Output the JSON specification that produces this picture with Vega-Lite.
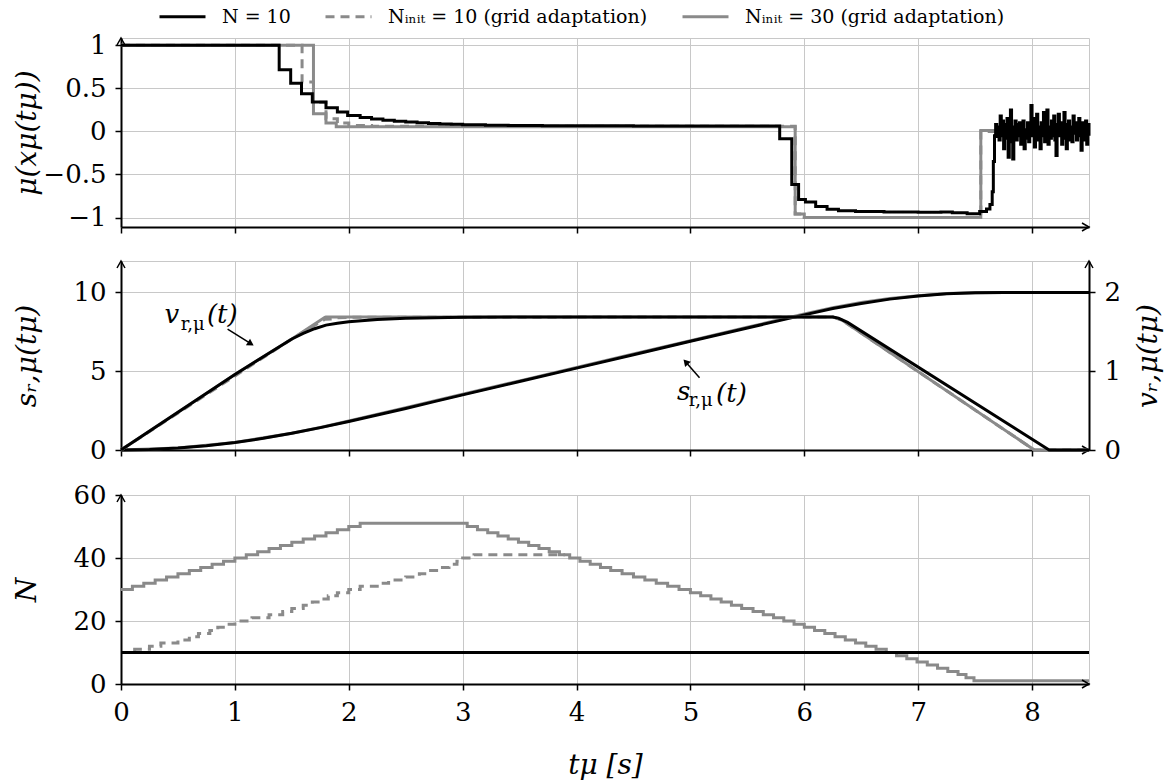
{
  "$schema": "https://vega.github.io/schema/vega-lite/v6.json",
  "background": "white",
  "padding": {"left": 12, "top": -8, "right": 0, "bottom": 0},
  "config": {
    "font": "DejaVu Serif",
    "view": {"stroke": "#c8c8c8", "strokeWidth": 1},
    "axis": {"domainColor": "#000", "domainWidth": 2, "tickColor": "#000", "tickWidth": 1.5, "tickSize": 6, "gridColor": "#c8c8c8", "gridWidth": 1, "labelFont": "DejaVu Serif", "labelFontSize": 26, "labelColor": "#000", "labelPadding": 9, "labelFlush": false, "labelOverlap": false, "titleFont": "DejaVu Serif", "titleFontSize": 28, "titleFontWeight": "normal", "titleFontStyle": "italic", "titleColor": "#000"}
  },
  "datasets": {
    "mu": [
      {"t":0,"mu":1,"k":"a"},{"t":1.389,"mu":0.717,"k":"a"},{"t":1.49,"mu":0.56,"k":"a"},{"t":1.585,"mu":0.438,"k":"a"},{"t":1.68,"mu":0.341,"k":"a"},{"t":1.8,"mu":0.275,"k":"a"},{"t":1.9,"mu":0.225,"k":"a"},{"t":1.99,"mu":0.186,"k":"a"},{"t":2.1,"mu":0.163,"k":"a"},{"t":2.2,"mu":0.145,"k":"a"},{"t":2.3,"mu":0.13,"k":"a"},{"t":2.4,"mu":0.118,"k":"a"},{"t":2.5,"mu":0.108,"k":"a"},{"t":2.6,"mu":0.1,"k":"a"},{"t":2.7,"mu":0.093,"k":"a"},{"t":2.8,"mu":0.087,"k":"a"},{"t":2.9,"mu":0.082,"k":"a"},{"t":3.0,"mu":0.078,"k":"a"},{"t":3.2,"mu":0.073,"k":"a"},{"t":3.4,"mu":0.07,"k":"a"},{"t":3.7,"mu":0.067,"k":"a"},{"t":4.0,"mu":0.065,"k":"a"},{"t":4.5,"mu":0.063,"k":"a"},{"t":5.0,"mu":0.062,"k":"a"},{"t":5.784,"mu":-0.085,"k":"a"},{"t":5.89,"mu":-0.616,"k":"a"},{"t":5.95,"mu":-0.79,"k":"a"},{"t":6.01,"mu":-0.82,"k":"a"},{"t":6.1,"mu":-0.872,"k":"a"},{"t":6.2,"mu":-0.905,"k":"a"},{"t":6.3,"mu":-0.92,"k":"a"},{"t":6.45,"mu":-0.93,"k":"a"},{"t":6.7,"mu":-0.935,"k":"a"},{"t":7.0,"mu":-0.94,"k":"a"},{"t":7.2,"mu":-0.935,"k":"a"},{"t":7.3,"mu":-0.945,"k":"a"},{"t":7.43,"mu":-0.955,"k":"a"},{"t":7.54,"mu":-0.93,"k":"a"},{"t":7.6,"mu":-0.9,"k":"a"},{"t":7.63,"mu":-0.85,"k":"a"},{"t":7.65,"mu":-0.7,"k":"a"},{"t":7.66,"mu":-0.35,"k":"a"},{"t":7.67,"mu":-0.05,"k":"a"},{"t":7.68,"mu":0.08,"k":"a"},{"t":7.69,"mu":-0.06,"k":"a"},
      {"t":7.70,"mu":0.05,"k":"a"},{"t":7.71,"mu":-0.1,"k":"a"},{"t":7.72,"mu":0.18,"k":"a"},{"t":7.73,"mu":-0.05,"k":"a"},{"t":7.74,"mu":0.12,"k":"a"},{"t":7.75,"mu":-0.2,"k":"a"},{"t":7.76,"mu":0.08,"k":"a"},{"t":7.77,"mu":-0.08,"k":"a"},{"t":7.78,"mu":0.15,"k":"a"},{"t":7.79,"mu":-0.3,"k":"a"},{"t":7.80,"mu":0.1,"k":"a"},{"t":7.81,"mu":0.25,"k":"a"},{"t":7.82,"mu":-0.12,"k":"a"},{"t":7.83,"mu":-0.32,"k":"a"},{"t":7.84,"mu":0.05,"k":"a"},{"t":7.85,"mu":0.12,"k":"a"},{"t":7.86,"mu":-0.1,"k":"a"},{"t":7.87,"mu":0.08,"k":"a"},{"t":7.88,"mu":-0.05,"k":"a"},{"t":7.89,"mu":0.1,"k":"a"},{"t":7.90,"mu":-0.15,"k":"a"},{"t":7.91,"mu":0.06,"k":"a"},{"t":7.92,"mu":0.12,"k":"a"},{"t":7.93,"mu":-0.2,"k":"a"},{"t":7.94,"mu":0.02,"k":"a"},{"t":7.95,"mu":-0.08,"k":"a"},{"t":7.96,"mu":0.1,"k":"a"},{"t":7.97,"mu":-0.12,"k":"a"},{"t":7.98,"mu":0.05,"k":"a"},{"t":7.99,"mu":0.3,"k":"a"},{"t":8.00,"mu":-0.05,"k":"a"},{"t":8.01,"mu":0.15,"k":"a"},{"t":8.02,"mu":-0.18,"k":"a"},{"t":8.03,"mu":0.08,"k":"a"},{"t":8.04,"mu":0.2,"k":"a"},{"t":8.05,"mu":-0.1,"k":"a"},{"t":8.06,"mu":0.05,"k":"a"},{"t":8.07,"mu":-0.2,"k":"a"},{"t":8.08,"mu":0.1,"k":"a"},{"t":8.09,"mu":-0.05,"k":"a"},{"t":8.10,"mu":0.22,"k":"a"},{"t":8.11,"mu":-0.12,"k":"a"},{"t":8.12,"mu":0.08,"k":"a"},{"t":8.13,"mu":0.25,"k":"a"},{"t":8.14,"mu":-0.15,"k":"a"},{"t":8.15,"mu":0.05,"k":"a"},{"t":8.16,"mu":-0.08,"k":"a"},{"t":8.17,"mu":0.12,"k":"a"},{"t":8.18,"mu":-0.05,"k":"a"},{"t":8.19,"mu":0.18,"k":"a"},{"t":8.20,"mu":-0.1,"k":"a"},{"t":8.21,"mu":-0.28,"k":"a"},{"t":8.22,"mu":0.08,"k":"a"},{"t":8.23,"mu":0.2,"k":"a"},{"t":8.24,"mu":-0.05,"k":"a"},{"t":8.25,"mu":0.1,"k":"a"},{"t":8.26,"mu":-0.15,"k":"a"},{"t":8.27,"mu":0.05,"k":"a"},{"t":8.28,"mu":0.22,"k":"a"},{"t":8.29,"mu":-0.08,"k":"a"},{"t":8.30,"mu":-0.2,"k":"a"},{"t":8.31,"mu":0.08,"k":"a"},{"t":8.32,"mu":0.12,"k":"a"},{"t":8.33,"mu":-0.1,"k":"a"},{"t":8.34,"mu":0.05,"k":"a"},{"t":8.35,"mu":-0.12,"k":"a"},{"t":8.36,"mu":0.18,"k":"a"},{"t":8.37,"mu":-0.02,"k":"a"},{"t":8.38,"mu":0.1,"k":"a"},{"t":8.39,"mu":-0.1,"k":"a"},{"t":8.40,"mu":0.05,"k":"a"},{"t":8.41,"mu":0.15,"k":"a"},{"t":8.42,"mu":-0.05,"k":"a"},{"t":8.43,"mu":-0.22,"k":"a"},{"t":8.44,"mu":0.1,"k":"a"},{"t":8.45,"mu":0.05,"k":"a"},{"t":8.46,"mu":-0.1,"k":"a"},{"t":8.47,"mu":0.12,"k":"a"},{"t":8.48,"mu":-0.15,"k":"a"},{"t":8.49,"mu":0.08,"k":"a"},{"t":8.50,"mu":-0.05,"k":"a"},
      {"t":0,"mu":1,"k":"b"},{"t":1.59,"mu":0.574,"k":"b"},{"t":1.69,"mu":0.34,"k":"b"},{"t":1.8,"mu":0.147,"k":"b"},{"t":1.9,"mu":0.097,"k":"b"},{"t":2.0,"mu":0.07,"k":"b"},{"t":2.2,"mu":0.06,"k":"b"},{"t":5.92,"mu":-0.96,"k":"b"},{"t":6.0,"mu":-1.0,"k":"b"},{"t":7.55,"mu":0.0,"k":"b"},{"t":8.5,"mu":0.0,"k":"b"},
      {"t":0,"mu":1,"k":"c"},{"t":1.69,"mu":0.205,"k":"c"},{"t":1.8,"mu":0.097,"k":"c"},{"t":1.89,"mu":0.055,"k":"c"},{"t":5.92,"mu":-0.96,"k":"c"},{"t":6.0,"mu":-1.0,"k":"c"},{"t":7.55,"mu":0.01,"k":"c"},{"t":8.5,"mu":0.01,"k":"c"}
    ],
    "s": [
      {"t":0,"s":0,"k":"a"},{"t":0.25,"s":0.03,"k":"a"},{"t":0.5,"s":0.12,"k":"a"},{"t":0.75,"s":0.27,"k":"a"},{"t":1,"s":0.48,"k":"a"},{"t":1.25,"s":0.74,"k":"a"},{"t":1.5,"s":1.06,"k":"a"},{"t":1.75,"s":1.42,"k":"a"},{"t":2,"s":1.81,"k":"a"},{"t":2.25,"s":2.22,"k":"a"},{"t":2.5,"s":2.64,"k":"a"},{"t":2.75,"s":3.07,"k":"a"},{"t":3,"s":3.5,"k":"a"},{"t":3.5,"s":4.35,"k":"a"},{"t":4,"s":5.2,"k":"a"},{"t":4.5,"s":6.05,"k":"a"},{"t":5,"s":6.9,"k":"a"},{"t":5.5,"s":7.75,"k":"a"},{"t":6,"s":8.58,"k":"a"},{"t":6.25,"s":8.98,"k":"a"},{"t":6.5,"s":9.3,"k":"a"},{"t":6.75,"s":9.58,"k":"a"},{"t":7,"s":9.78,"k":"a"},{"t":7.25,"s":9.92,"k":"a"},{"t":7.5,"s":9.99,"k":"a"},{"t":7.75,"s":10,"k":"a"},{"t":8.5,"s":10,"k":"a"},
      {"t":0,"s":0,"k":"c"},{"t":0.5,"s":0.12,"k":"c"},{"t":1,"s":0.48,"k":"c"},{"t":1.5,"s":1.06,"k":"c"},{"t":1.75,"s":1.43,"k":"c"},{"t":2,"s":1.84,"k":"c"},{"t":2.5,"s":2.69,"k":"c"},{"t":3,"s":3.54,"k":"c"},{"t":3.5,"s":4.39,"k":"c"},{"t":4,"s":5.24,"k":"c"},{"t":4.5,"s":6.09,"k":"c"},{"t":5,"s":6.94,"k":"c"},{"t":5.5,"s":7.79,"k":"c"},{"t":6,"s":8.63,"k":"c"},{"t":6.25,"s":9.03,"k":"c"},{"t":6.5,"s":9.36,"k":"c"},{"t":6.75,"s":9.62,"k":"c"},{"t":7,"s":9.8,"k":"c"},{"t":7.25,"s":9.93,"k":"c"},{"t":7.5,"s":9.99,"k":"c"},{"t":7.75,"s":10,"k":"c"},{"t":8.5,"s":10,"k":"c"}
    ],
    "v": [
      {"t":0,"v":0,"k":"a"},{"t":0.5,"v":0.48,"k":"a"},{"t":1,"v":0.96,"k":"a"},{"t":1.5,"v":1.41,"k":"a"},{"t":1.6,"v":1.48,"k":"a"},{"t":1.7,"v":1.54,"k":"a"},{"t":1.8,"v":1.586,"k":"a"},{"t":1.9,"v":1.61,"k":"a"},{"t":2,"v":1.628,"k":"a"},{"t":2.25,"v":1.658,"k":"a"},{"t":2.5,"v":1.672,"k":"a"},{"t":3,"v":1.686,"k":"a"},{"t":4,"v":1.69,"k":"a"},{"t":6.25,"v":1.69,"k":"a"},{"t":6.3,"v":1.675,"k":"a"},{"t":6.38,"v":1.62,"k":"a"},{"t":8.15,"v":0,"k":"a"},{"t":8.5,"v":0,"k":"a"},
      {"t":0,"v":0,"k":"b"},{"t":1.5,"v":1.41,"k":"b"},{"t":1.72,"v":1.6,"k":"b"},{"t":1.79,"v":1.66,"k":"b"},{"t":1.85,"v":1.665,"k":"b"},{"t":1.9,"v":1.68,"k":"b"},{"t":2,"v":1.685,"k":"b"},{"t":6.25,"v":1.69,"k":"b"},{"t":6.33,"v":1.65,"k":"b"},{"t":8.02,"v":0,"k":"b"},{"t":8.5,"v":0,"k":"b"},
      {"t":0,"v":0,"k":"c"},{"t":1,"v":0.96,"k":"c"},{"t":1.5,"v":1.41,"k":"c"},{"t":1.79,"v":1.685,"k":"c"},{"t":1.8,"v":1.69,"k":"c"},{"t":6.25,"v":1.69,"k":"c"},{"t":6.33,"v":1.65,"k":"c"},{"t":8.02,"v":0,"k":"c"},{"t":8.5,"v":0,"k":"c"}
    ],
    "n": [
      {"t":0,"N":10,"k":"a"},{"t":8.5,"N":10,"k":"a"},
      {"t":0,"N":10,"k":"b"},{"t":0.12,"N":11,"k":"b"},{"t":0.25,"N":12,"k":"b"},{"t":0.35,"N":13,"k":"b"},{"t":0.5,"N":14,"k":"b"},{"t":0.6,"N":15,"k":"b"},{"t":0.68,"N":16,"k":"b"},{"t":0.78,"N":17,"k":"b"},{"t":0.85,"N":18,"k":"b"},{"t":0.92,"N":19,"k":"b"},{"t":1.0,"N":20,"k":"b"},{"t":1.15,"N":21,"k":"b"},{"t":1.3,"N":22,"k":"b"},{"t":1.42,"N":23,"k":"b"},{"t":1.5,"N":24,"k":"b"},{"t":1.6,"N":25,"k":"b"},{"t":1.68,"N":26,"k":"b"},{"t":1.75,"N":27,"k":"b"},{"t":1.82,"N":28,"k":"b"},{"t":1.9,"N":29,"k":"b"},{"t":2.0,"N":30,"k":"b"},{"t":2.1,"N":31,"k":"b"},{"t":2.25,"N":32,"k":"b"},{"t":2.35,"N":33,"k":"b"},{"t":2.5,"N":34,"k":"b"},{"t":2.62,"N":35,"k":"b"},{"t":2.7,"N":36,"k":"b"},{"t":2.8,"N":37,"k":"b"},{"t":2.88,"N":38,"k":"b"},{"t":2.95,"N":39,"k":"b"},{"t":3.0,"N":40,"k":"b"},{"t":3.1,"N":41,"k":"b"},{"t":3.9,"N":41,"k":"b"},
      {"t":0,"N":30,"k":"c"},{"t":0.1,"N":31,"k":"c"},{"t":0.2,"N":32,"k":"c"},{"t":0.3,"N":33,"k":"c"},{"t":0.4,"N":34,"k":"c"},{"t":0.5,"N":35,"k":"c"},{"t":0.6,"N":36,"k":"c"},{"t":0.7,"N":37,"k":"c"},{"t":0.8,"N":38,"k":"c"},{"t":0.9,"N":39,"k":"c"},{"t":1.0,"N":40,"k":"c"},{"t":1.1,"N":41,"k":"c"},{"t":1.2,"N":42,"k":"c"},{"t":1.3,"N":43,"k":"c"},{"t":1.4,"N":44,"k":"c"},{"t":1.5,"N":45,"k":"c"},{"t":1.6,"N":46,"k":"c"},{"t":1.7,"N":47,"k":"c"},{"t":1.8,"N":48,"k":"c"},{"t":1.9,"N":49,"k":"c"},{"t":2.0,"N":50,"k":"c"},{"t":2.1,"N":51,"k":"c"},{"t":3.04,"N":50,"k":"c"},{"t":3.13,"N":49,"k":"c"},{"t":3.22,"N":48,"k":"c"},{"t":3.31,"N":47,"k":"c"},{"t":3.4,"N":46,"k":"c"},{"t":3.49,"N":45,"k":"c"},{"t":3.58,"N":44,"k":"c"},{"t":3.67,"N":43,"k":"c"},{"t":3.76,"N":42,"k":"c"},{"t":3.85,"N":41,"k":"c"},{"t":3.94,"N":40,"k":"c"},{"t":4.03,"N":39,"k":"c"},{"t":4.12,"N":38,"k":"c"},{"t":4.21,"N":37,"k":"c"},{"t":4.3,"N":36,"k":"c"},{"t":4.4,"N":35,"k":"c"},{"t":4.5,"N":34,"k":"c"},{"t":4.6,"N":33,"k":"c"},{"t":4.7,"N":32,"k":"c"},{"t":4.8,"N":31,"k":"c"},{"t":4.9,"N":30,"k":"c"},{"t":5.0,"N":29,"k":"c"},{"t":5.09,"N":28,"k":"c"},{"t":5.18,"N":27,"k":"c"},{"t":5.27,"N":26,"k":"c"},{"t":5.36,"N":25,"k":"c"},{"t":5.45,"N":24,"k":"c"},{"t":5.55,"N":23,"k":"c"},{"t":5.64,"N":22,"k":"c"},{"t":5.73,"N":21,"k":"c"},{"t":5.82,"N":20,"k":"c"},{"t":5.91,"N":19,"k":"c"},{"t":6.0,"N":18,"k":"c"},{"t":6.09,"N":17,"k":"c"},{"t":6.18,"N":16,"k":"c"},{"t":6.27,"N":15,"k":"c"},{"t":6.36,"N":14,"k":"c"},{"t":6.45,"N":13,"k":"c"},{"t":6.54,"N":12,"k":"c"},{"t":6.63,"N":11,"k":"c"},{"t":6.72,"N":10,"k":"c"},{"t":6.81,"N":9,"k":"c"},{"t":6.9,"N":8,"k":"c"},{"t":6.99,"N":7,"k":"c"},{"t":7.08,"N":6,"k":"c"},{"t":7.17,"N":5,"k":"c"},{"t":7.26,"N":4,"k":"c"},{"t":7.35,"N":3,"k":"c"},{"t":7.42,"N":2,"k":"c"},{"t":7.49,"N":1,"k":"c"},{"t":8.5,"N":1,"k":"c"}
    ]
  },
  "bounds": "flush",
  "spacing": 34,
  "resolve": {"scale": {"x": "independent", "y": "independent"}},
  "vconcat": [
    {
      "width": 968,
      "height": 189,
      "encoding": {
        "x": {"field": "t", "type": "quantitative", "scale": {"domain": [0, 8.5], "nice": false, "zero": false}, "axis": {"values": [0,1,2,3,4,5,6,7,8], "labels": false, "title": null}},
        "y": {"field": "mu", "type": "quantitative", "scale": {"domain": [-1.11, 1.085], "nice": false, "zero": false}, "axis": {"values": [-1,-0.5,0,0.5,1], "format": "~g", "title": "μ(xμ(tμ))", "minExtent": 78, "maxExtent": 78, "titlePadding": 2}}
      },
      "layer": [
        {
          "data": {"name": "mu"},
          "encoding": {
            "color": {"field": "k", "type": "nominal", "scale": {"domain": ["a","b","c"], "range": ["#000000","#8a8a8a","#8a8a8a"]}, "legend": {"orient": "none", "legendX": 37, "legendY": -46, "direction": "horizontal", "title": null, "symbolType": "stroke", "symbolSize": 2116, "symbolStrokeWidth": 3, "labelFont": "DejaVu Serif", "labelFontSize": 19, "labelColor": "#000", "labelOffset": 15, "columnPadding": 28, "labelLimit": 0, "labelExpr": "datum.value == 'a' ? 'N = 10' : datum.value == 'b' ? 'Nᵢₙᵢₜ = 10 (grid adaptation)' : 'Nᵢₙᵢₜ = 30 (grid adaptation)'"}},
            "strokeDash": {"field": "k", "type": "nominal", "scale": {"domain": ["a","b","c"], "range": [[1,0],[9,6],[1,0]]}, "legend": {"orient": "none", "legendX": 37, "legendY": -46, "direction": "horizontal", "title": null, "symbolType": "stroke", "symbolSize": 2116, "symbolStrokeWidth": 3, "labelFont": "DejaVu Serif", "labelFontSize": 19, "labelColor": "#000", "labelOffset": 15, "columnPadding": 28, "labelLimit": 0, "labelExpr": "datum.value == 'a' ? 'N = 10' : datum.value == 'b' ? 'Nᵢₙᵢₜ = 10 (grid adaptation)' : 'Nᵢₙᵢₜ = 30 (grid adaptation)'"}}
          },
          "layer": [
            {"transform": [{"filter": "datum.k == 'b'"}], "mark": {"type": "line", "interpolate": "step-after", "strokeWidth": 3}},
            {"transform": [{"filter": "datum.k == 'c'"}], "mark": {"type": "line", "interpolate": "step-after", "strokeWidth": 3}},
            {"transform": [{"filter": "datum.k == 'a'"}], "mark": {"type": "line", "interpolate": "step-after", "strokeWidth": 3}}
          ]
        },
        {"data": {"values": [{"t": 0, "mu": 1.085}]}, "mark": {"type": "point", "shape": "M-0.57,1L0,0L0.57,1", "filled": false, "stroke": "#000", "strokeWidth": 1.5, "size": 196, "opacity": 1}},
        {"data": {"values": [{"t": 8.5, "mu": -1.11}]}, "mark": {"type": "point", "shape": "M-1,-0.57L0,0L-1,0.57", "filled": false, "stroke": "#000", "strokeWidth": 1.5, "size": 196, "opacity": 1}}
      ]
    },
    {
      "bounds": "flush",
      "spacing": 45,
      "resolve": {"scale": {"x": "independent", "y": "independent"}},
      "vconcat": [
        {
          "width": 968,
          "height": 189,
          "encoding": {
            "x": {"field": "t", "type": "quantitative", "scale": {"domain": [0, 8.5], "nice": false, "zero": false}, "axis": {"values": [0,1,2,3,4,5,6,7,8], "labels": false, "title": null}}
          },
          "layer": [
            {
              "encoding": {
                "y": {"field": "s", "type": "quantitative", "scale": {"domain": [0, 12], "nice": false, "zero": false}, "axis": {"orient": "left", "values": [0,5,10], "title": "sᵣ,μ(tμ)", "minExtent": 78, "maxExtent": 78, "titlePadding": 2}}
              },
              "layer": [
                {"data": {"name": "s"}, "transform": [{"filter": "datum.k == 'c'"}], "mark": {"type": "line", "color": "#8a8a8a", "strokeWidth": 3}},
                {"data": {"name": "s"}, "transform": [{"filter": "datum.k == 'a'"}], "mark": {"type": "line", "color": "#000", "strokeWidth": 3}},
                {"data": {"values": [{"t": 0.446, "s": 8.6, "label": "v"}, {"t": 0.89, "s": 8.6, "label": "(t)"}, {"t": 4.94, "s": 3.7, "label": "s"}, {"t": 5.36, "s": 3.55, "label": "(t)"}]}, "mark": {"type": "text", "font": "DejaVu Serif", "fontStyle": "italic", "fontSize": 26, "color": "#000", "align": "center", "baseline": "middle"}, "encoding": {"text": {"field": "label"}}},
                {"data": {"values": [{"t": 0.63, "s": 7.95, "label": "r,μ"}, {"t": 5.09, "s": 3.1, "label": "r,μ"}]}, "mark": {"type": "text", "font": "DejaVu Serif", "fontSize": 18, "color": "#000", "align": "center", "baseline": "middle"}, "encoding": {"text": {"field": "label"}}},
                {"data": {"values": [{"t": 0.936, "s": 7.67, "t2": 1.14, "s2": 6.75}, {"t": 5.08, "s": 4.58, "t2": 4.959, "s2": 5.59}]}, "mark": {"type": "rule", "color": "#000", "strokeWidth": 1.5}, "encoding": {"x2": {"field": "t2"}, "y2": {"field": "s2"}}},
                {"data": {"values": [{"t": 1.14, "s": 6.75}]}, "mark": {"type": "point", "shape": "triangle-right", "angle": 32, "filled": true, "color": "#000", "size": 60, "opacity": 1}},
                {"data": {"values": [{"t": 4.959, "s": 5.59}]}, "mark": {"type": "point", "shape": "triangle-right", "angle": 228, "filled": true, "color": "#000", "size": 60, "opacity": 1}},
                {"data": {"values": [{"t": 0, "s": 12}, {"t": 8.5, "s": 12}]}, "mark": {"type": "point", "shape": "M-0.57,1L0,0L0.57,1", "filled": false, "stroke": "#000", "strokeWidth": 1.5, "size": 196, "opacity": 1}},
                {"data": {"values": [{"t": 8.5, "s": 0}]}, "mark": {"type": "point", "shape": "M-1,-0.57L0,0L-1,0.57", "filled": false, "stroke": "#000", "strokeWidth": 1.5, "size": 196, "opacity": 1}}
              ]
            },
            {
              "data": {"name": "v"},
              "encoding": {
                "y": {"field": "v", "type": "quantitative", "scale": {"domain": [0, 2.4], "nice": false, "zero": false}, "axis": {"orient": "right", "values": [0,1,2], "grid": false, "title": "vᵣ,μ(tμ)", "titleAngle": 270, "titleBaseline": "top", "titlePadding": 14}}
              },
              "layer": [
                {"transform": [{"filter": "datum.k == 'b'"}], "mark": {"type": "line", "color": "#8a8a8a", "strokeDash": [9, 6], "strokeWidth": 3}},
                {"transform": [{"filter": "datum.k == 'c'"}], "mark": {"type": "line", "color": "#8a8a8a", "strokeWidth": 3}},
                {"transform": [{"filter": "datum.k == 'a'"}], "mark": {"type": "line", "color": "#000", "strokeWidth": 3}}
              ]
            }
          ],
          "resolve": {"scale": {"y": "independent"}}
        },
        {
          "width": 968,
          "height": 189,
          "data": {"name": "n"},
          "encoding": {
            "x": {"field": "t", "type": "quantitative", "scale": {"domain": [0, 8.5], "nice": false, "zero": false}, "axis": {"values": [0,1,2,3,4,5,6,7,8], "labelPadding": 9, "title": "tμ [s]", "titlePadding": 26}},
            "y": {"field": "N", "type": "quantitative", "scale": {"domain": [0, 60], "nice": false, "zero": false}, "axis": {"values": [0,20,40,60], "title": "N", "minExtent": 78, "maxExtent": 78, "titlePadding": 2}}
          },
          "layer": [
            {"transform": [{"filter": "datum.k == 'b'"}], "mark": {"type": "line", "interpolate": "step-after", "color": "#8a8a8a", "strokeDash": [9, 6], "strokeWidth": 3}},
            {"transform": [{"filter": "datum.k == 'c'"}], "mark": {"type": "line", "interpolate": "step-after", "color": "#8a8a8a", "strokeWidth": 3}},
            {"transform": [{"filter": "datum.k == 'a'"}], "mark": {"type": "line", "color": "#000", "strokeWidth": 3}},
            {"data": {"values": [{"t": 0, "N": 60}]}, "mark": {"type": "point", "shape": "M-0.57,1L0,0L0.57,1", "filled": false, "stroke": "#000", "strokeWidth": 1.5, "size": 196, "opacity": 1}},
            {"data": {"values": [{"t": 8.5, "N": 0}]}, "mark": {"type": "point", "shape": "M-1,-0.57L0,0L-1,0.57", "filled": false, "stroke": "#000", "strokeWidth": 1.5, "size": 196, "opacity": 1}}
          ]
        }
      ]
    }
  ]
}
